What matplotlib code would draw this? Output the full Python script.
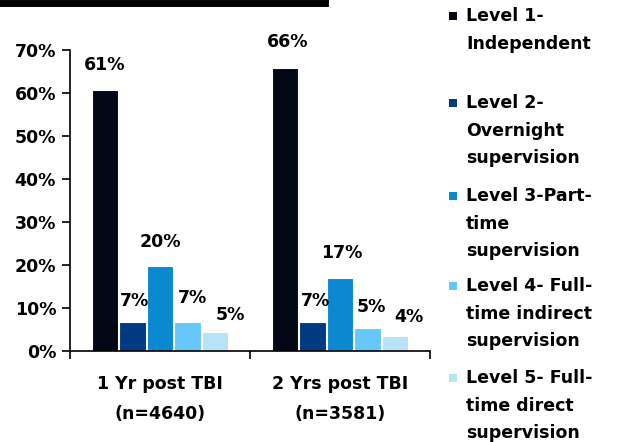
import matplotlib.pyplot as plt
from matplotlib.patches import Rectangle
import numpy as np

plt.rcParams['font.family'] = ['DejaVu Sans']
plt.rcParams['font.weight'] = 'bold'

groups = ['1 Yr post TBI\n(n=4640)', '2 Yrs post TBI\n(n=3581)']
levels = ['Level 1-\nIndependent', 'Level 2-\nOvernight\nsupervision',
          'Level 3-Part-\ntime\nsupervision', 'Level 4- Full-\ntime indirect\nsupervision',
          'Level 5- Full-\ntime direct\nsupervision']
values = [[60.7, 65.8], [6.7, 6.7], [19.8, 17.0], [6.7, 5.3], [4.4, 3.5]]
labels = [['61%', '66%'], ['7%', '7%'], ['20%', '17%'], ['7%', '5%'], ['5%', '4%']]
colors = ['#020816', '#003a82', '#0a88d0', '#66c8fa', '#b8e2f8']

# hand nudges of the value labels (points)
nudge_x = [[0, 2], [1.5, 2], [0, 1.5], [3.5, 3], [11, 10]]
nudge_y = [[11.5, 12], [8.5, 9], [11, 11.5], [11, 9], [6, 7]]

fs = 12.5

fig = plt.figure(figsize=(6.24, 4.42), dpi=100)
ax = fig.add_axes([0.1122, 0.2059, 0.577, 0.681])

x = np.arange(len(groups))
step = 0.153
width = 0.148
for i in range(len(levels)):
    pos = x + (i - 2) * step
    bars = ax.bar(pos, values[i], width, color=colors[i], edgecolor='white', linewidth=0.8)
    for j, (b, lab) in enumerate(zip(bars, labels[i])):
        ax.annotate(lab, (b.get_x() + b.get_width() / 2, b.get_height()),
                    xytext=(nudge_x[i][j], nudge_y[i][j]), textcoords='offset points',
                    ha='center', va='bottom', fontsize=fs, fontweight='bold')

ax.set_xlim(-0.5, 1.5)
ax.set_ylim(0, 70)
ax.set_yticks(range(0, 71, 10))
ax.set_yticklabels(['%d%%' % v for v in range(0, 71, 10)], fontsize=fs, fontweight='bold')
ax.set_xticks([-0.5, 0.5, 1.5])
ax.set_xticklabels([])
ax.set_xticks(x, minor=True)
ax.set_xticklabels(groups, minor=True, fontsize=fs, fontweight='bold', linespacing=1.85)
ax.tick_params(axis='x', which='minor', length=0, pad=17)
ax.tick_params(axis='x', which='major', length=6, width=1.2, direction='out')
ax.tick_params(axis='y', length=6, width=1.2, direction='out', pad=4)
ax.spines['top'].set_visible(False)
ax.spines['right'].set_visible(False)
ax.spines['left'].set_linewidth(1.2)
ax.spines['bottom'].set_linewidth(1.2)

# cut-off title underline at the top
fig.add_artist(plt.Line2D([0, 325 / 624], [1 - 3 / 442, 1 - 3 / 442], color='black', linewidth=5))

# legend, drawn by hand
legend_y = [16, 103, 196, 286, 378]
for lab, col, yy in zip(levels, colors, legend_y):
    fig.add_artist(Rectangle((449 / 624, 1 - (yy + 4) / 442), 8 / 624, 8 / 442,
                             facecolor=col, edgecolor='none', transform=fig.transFigure))
    fig.text(466 / 624, 1 - (yy - 9) / 442, lab, ha='left', va='top', fontsize=fs,
             fontweight='bold', linespacing=1.68)

fig.savefig('out.png', dpi=100)
